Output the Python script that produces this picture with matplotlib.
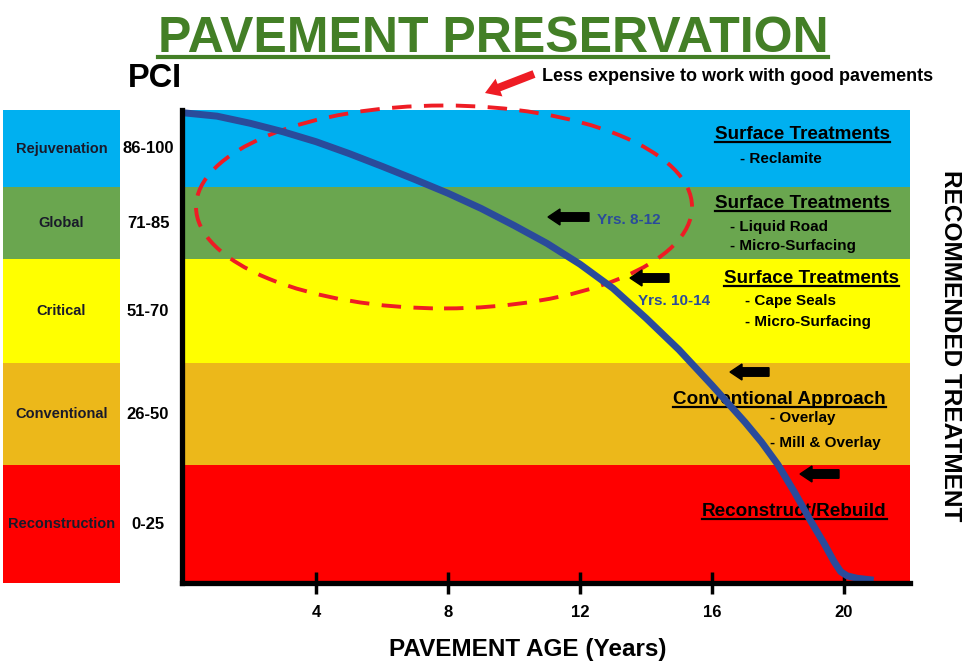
import matplotlib
matplotlib.use("Agg")
import matplotlib.pyplot as plt
from matplotlib import font_manager
from matplotlib import transforms as mtransforms
from matplotlib.patches import Ellipse, FancyArrow
from matplotlib.lines import Line2D

W, H = 964, 663

# ---------------- data ----------------
categories = ["Rejuvenation", "Global", "Critical", "Conventional", "Reconstruction"]
pci_ranges = ["86-100", "71-85", "51-70", "26-50", "0-25"]
band_top = [100, 83.7, 68.5, 46.5, 24.9]
band_bottom = [83.7, 68.5, 46.5, 24.9, 0]
band_colors = ["#00b0f0", "#6aa64f", "#ffff00", "#ecb81a", "#ff0000"]

age_years = [0, 1, 2, 3, 4, 5, 6, 7, 8, 9, 10, 11, 12, 13, 14, 15, 16, 17,
             17.5, 18, 18.5, 19, 19.4, 19.7, 19.9, 20.1, 20.4, 20.9]
pci_values = [99.4, 98.7, 97.2, 95.4, 93.3, 90.8, 88.1, 85.3, 82.4, 79.2, 75.6, 71.8,
              67.4, 62.3, 56.0, 49.3, 41.8, 34.0, 29.8, 25.0, 19.2, 13.0, 8.3, 4.5,
              2.4, 1.5, 1.0, 0.6]
x_ticks = [4, 8, 12, 16, 20]
x_tick_labels = ["4", "8", "12", "16", "20"]

treatment_headings = ["Surface Treatments", "Surface Treatments", "Surface Treatments",
                      "Conventional Approach", "Reconstruct/Rebuild"]
treatment_items = [["- Reclamite"], ["- Liquid Road", "- Micro-Surfacing"],
                   ["- Cape Seals", "- Micro-Surfacing"], ["- Overlay", "- Mill & Overlay"], []]
year_notes = ["Yrs. 8-12", "Yrs. 10-14"]

title = "PAVEMENT PRESERVATION"
y_title = "PCI"
x_title = "PAVEMENT AGE (Years)"
side_title = "RECOMMENDED TREATMENT"
note = "Less expensive to work with good pavements"

# ---------------- fonts ----------------
avail = {f.name for f in font_manager.fontManager.ttflist}
BOLD = ["Liberation Sans", "DejaVu Sans"]
if "Liberation Sans Narrow" in avail:
    NARROW = ["Liberation Sans Narrow", "Liberation Sans", "DejaVu Sans"]
    title_size = 40
else:
    NARROW = BOLD
    title_size = 36
plt.rcParams["font.family"] = BOLD

fig = plt.figure(figsize=(W / 100, H / 100), dpi=100)


def fx(x):
    return x / W


def fy(y):
    return 1 - y / H


ax_left, ax_right, ax_top, ax_bot = 182, 910, 110, 583
ax = fig.add_axes([fx(ax_left), fy(ax_bot), (ax_right - ax_left) / W, (ax_bot - ax_top) / H])
ax.set_xlim(-0.06, 22.0)
ax.set_ylim(0, 100)
for lo, hi, c in zip(band_bottom, band_top, band_colors):
    ax.axhspan(lo, hi, color=c, lw=0, zorder=0)

ax.plot(age_years, pci_values, color="#2a4b9b", lw=5, solid_capstyle="butt",
        solid_joinstyle="round", zorder=5, clip_on=False)

for s in ["top", "right"]:
    ax.spines[s].set_visible(False)
for s in ["left", "bottom"]:
    ax.spines[s].set_linewidth(3.8)
    ax.spines[s].set_color("black")
    ax.spines[s].set_zorder(7)
ax.set_yticks([])
ax.set_xticks(x_ticks)
ax.set_xticklabels(x_tick_labels, fontsize=12, fontweight="bold", family=NARROW)
ax.tick_params(axis="x", direction="inout", length=16, width=2.5, pad=8, color="black")

# dashed ellipse
ell = Ellipse((7.88, 79.5), 15.03, 42.9, fill=False, edgecolor="#ee1c24", lw=2.8,
              linestyle=(0, (5, 3.2)), zorder=4, clip_on=False)
ax.add_patch(ell)

# left category column
ax2 = fig.add_axes([fx(3), fy(ax_bot), 117 / W, (ax_bot - ax_top) / H])
ax2.set_xlim(0, 1)
ax2.set_ylim(0, 100)
ax2.axis("off")
for lo, hi, c, name, rng in zip(band_bottom, band_top, band_colors, categories, pci_ranges):
    ax2.axhspan(lo, hi, color=c, lw=0)
    ax2.text(0.5, (lo + hi) / 2, name, ha="center", va="center", fontsize=10.5,
             fontweight="bold", color="#1a1a2a")
    ax.text(fx(148), ax2.transData.transform((0, (lo + hi) / 2))[1] / H, rng,
            transform=fig.transFigure, ha="center", va="center", fontsize=12,
            fontweight="bold", color="black")

# texts
ax.text(fx(493), fy(52), title, transform=fig.transFigure, ha="center", va="baseline",
        fontsize=title_size, fontweight="bold", color="#437f26", family=NARROW, zorder=4)
ax.text(fx(128), fy(87), y_title, transform=fig.transFigure, ha="left", va="baseline",
        fontsize=23.5, fontweight="bold", color="black")
ax.text(fx(542), fy(81), note, transform=fig.transFigure, ha="left", va="baseline",
        fontsize=13, fontweight="bold", color="black")
ax.text(fx(528), fy(656), x_title, transform=fig.transFigure, ha="center", va="baseline",
        fontsize=17.5, fontweight="bold", color="black")
ax.text(fx(950), fy(346), side_title, transform=fig.transFigure, ha="center", va="center",
        rotation=-90, fontsize=17.6, fontweight="bold", color="black")

heading_pos = [(715, 139), (715, 208), (724, 283), (673, 404), (702, 516)]
item_pos = [[(740, 163)], [(730, 231), (730, 250)], [(745, 305), (745, 326)],
            [(770, 422), (770, 447)], []]
heading_texts = []
for head, items, hp, ips in zip(treatment_headings, treatment_items, heading_pos, item_pos):
    t = ax.text(fx(hp[0]), fy(hp[1]), head, transform=fig.transFigure, ha="left",
                va="baseline", fontsize=13.6, fontweight="bold", color="black", zorder=4)
    heading_texts.append((t, hp[1]))
    for it, ip in zip(items, ips):
        ax.text(fx(ip[0]), fy(ip[1]), it, transform=fig.transFigure, ha="left",
                va="baseline", fontsize=11, fontweight="bold", color="black", zorder=4)

note_pos = [(597, 224), (638, 305)]
for n, p in zip(year_notes, note_pos):
    ax.text(fx(p[0]), fy(p[1]), n, transform=fig.transFigure, ha="left", va="baseline",
            fontsize=11, fontweight="bold", color="#2a4b9b", zorder=4)

ident = mtransforms.IdentityTransform()
# black arrows (tail x, head x, y)
for tail, head, yy in [(589, 548, 217), (669, 630, 278), (769, 730, 372), (839, 800, 474)]:
    fig.add_artist(FancyArrow(tail, H - yy, head - tail, 0, width=8.5, head_width=16,
                              head_length=12, length_includes_head=True, color="black",
                              transform=ident, zorder=8))
# red arrow
fig.add_artist(FancyArrow(534, H - 74, 485 - 534, -(93 - 74), width=8, head_width=19,
                          head_length=15, length_includes_head=True, color="#ee1c24",
                          lw=0, transform=ident, zorder=8))

# underlines
fig.canvas.draw()
r = fig.canvas.get_renderer()
title_t = [t for t in ax.texts if t.get_text() == title][0]
bb = title_t.get_window_extent(r)
fig.add_artist(Line2D([bb.x0, bb.x1], [H - 56.5, H - 56.5], color="#437f26", lw=3,
                      transform=ident))
for t, base in heading_texts:
    bb = t.get_window_extent(r)
    ax.add_artist(Line2D([bb.x0, bb.x1], [H - base - 3, H - base - 3], color="black",
                         lw=1.6, transform=ident, zorder=4, clip_on=False))

fig.savefig("out.png", dpi=100)
